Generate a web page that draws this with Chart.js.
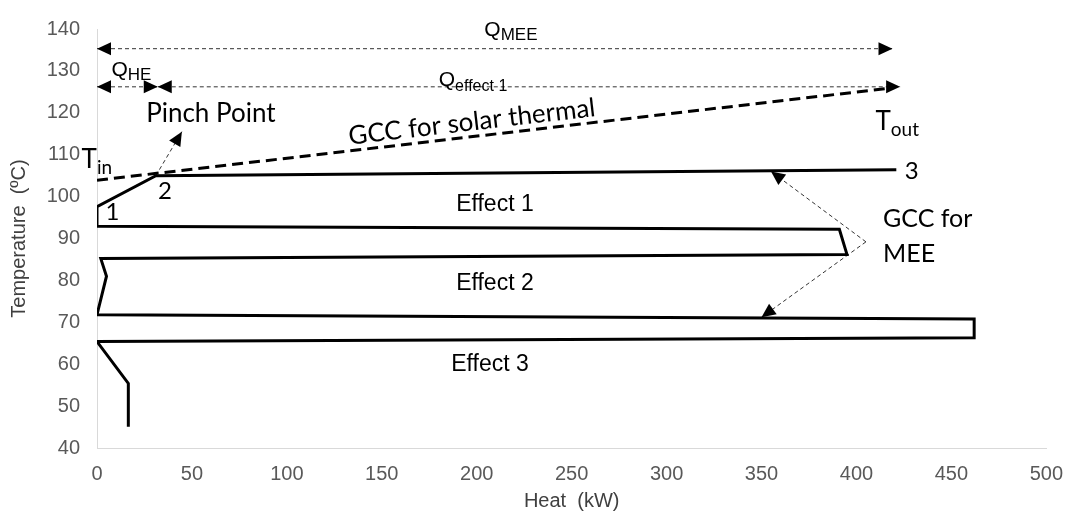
<!DOCTYPE html>
<html><head><meta charset="utf-8">
<script src="https://cdn.jsdelivr.net/npm/chart.js@4.4.1/dist/chart.umd.min.js"></script>
<style>html,body{margin:0;padding:0;background:#fff}#wrap{width:1077px;height:515px;position:relative}</style>
</head><body><div id="wrap"><canvas id="c"></canvas></div>
<script>
// ---- tick labels ----
const xTickValues = [0, 50, 100, 150, 200, 250, 300, 350, 400, 450, 500];
const yTickValues = [40, 50, 60, 70, 80, 90, 100, 110, 120, 130, 140];

// ---- GCC for MEE (solid) ----
const meeHeat = [421, 31, 0, 0, 391, 395, 2, 5, 0, 462, 462, 0, 16.5, 16.5];
const meeTemp = [106.4, 105.0, 97.6, 92.9, 92.2, 86.2, 85.2, 81.0, 71.8, 70.8, 66.3, 65.4, 55.4, 45.1];

// ---- GCC for solar thermal (dashed) ----
const solarHeat = [0, 416];
const solarTemp = [103.9, 125.8];

// ---- dimension / pointer arrows ----
const qMeeHeat = [0, 419], qMeeTemp = [135.3, 135.3];
const qHeHeat = [0, 32], qHeTemp = [126.2, 126.2];
const qEff1Heat = [32, 423], qEff1Temp = [126.2, 126.2];
const pinchHeat = [31, 44.7], pinchTemp = [105.0, 115.5];
const meeUpHeat = [405, 355], meeUpTemp = [89.2, 106.0];
const meeDownHeat = [405, 350], meeDownTemp = [89.2, 71.2];

const pts = (xs, ys) => xs.map((x, i) => ({x, y: ys[i]}));

const CAL = 'Lato, "Noto Sans", sans-serif';
const ARI = '"Liberation Sans", Arial, sans-serif';

// text annotations (data coordinates)
const labels = [
  {t: 'Q', s: 'MEE', x: 204, y: 138.4, f: '21px ' + ARI, sf: '17px ' + ARI, sdy: 4},
  {t: 'Q', s: 'HE', x: 7.6, y: 128.8, f: '21px ' + ARI, sf: '17px ' + ARI, sdy: 4},
  {t: 'Q', s: 'effect 1', x: 180, y: 126.5, f: '21px ' + ARI, sf: '16px ' + ARI, sdy: 5},
  {t: 'Pinch Point', x: 25.9, y: 117.8, f: '26px ' + CAL},
  {t: 'GCC for solar thermal', x: 133, y: 112.4, f: '26px ' + CAL, rot: 'solar'},
  {t: 'T', s: 'in', x: -8.1, y: 106.9, f: '26px ' + CAL, sf: '19px ' + CAL, sdy: 6},
  {t: 'T', s: 'out', x: 410, y: 115.8, f: '26px ' + CAL, sf: '19px ' + CAL, sdy: 6},
  {t: '1', x: 8.1, y: 94.4, f: '24px ' + CAL, a: 'center'},
  {t: '2', x: 35.8, y: 99.4, f: '24px ' + CAL, a: 'center'},
  {t: '3', x: 425.5, y: 104.2, f: '24px ' + CAL},
  {t: 'Effect 1', x: 209.6, y: 98.0, f: '23px ' + ARI, a: 'center', b: 'middle'},
  {t: 'Effect 2', x: 209.6, y: 79.2, f: '23px ' + ARI, a: 'center', b: 'middle'},
  {t: 'Effect 3', x: 207, y: 60.0, f: '23px ' + ARI, a: 'center', b: 'middle'},
  {t: 'GCC for', x: 414, y: 94.7, f: '25px ' + CAL, b: 'middle'},
  {t: 'MEE', x: 414, y: 86.4, f: '25px ' + CAL, b: 'middle'}
];

const thin = {borderColor: '#333', borderWidth: 1, borderDash: [4, 3]};
const datasets = [
  {data: pts(meeHeat, meeTemp), borderColor: '#000', borderWidth: 3},
  {data: pts(solarHeat, solarTemp), borderColor: '#000', borderWidth: 3, borderDash: [11, 6], id: 'solar'},
  Object.assign({data: pts(qMeeHeat, qMeeTemp), arrowStart: true, arrowEnd: true}, thin),
  Object.assign({data: pts(qHeHeat, qHeTemp), arrowStart: true, arrowEnd: true}, thin),
  Object.assign({data: pts(qEff1Heat, qEff1Temp), arrowStart: true, arrowEnd: true}, thin),
  Object.assign({data: pts(pinchHeat, pinchTemp), arrowEnd: true}, thin),
  Object.assign({data: pts(meeUpHeat, meeUpTemp), arrowEnd: true}, thin),
  Object.assign({data: pts(meeDownHeat, meeDownTemp), arrowEnd: true}, thin)
].map(d => Object.assign({showLine: true, pointRadius: 0, pointHoverRadius: 0, tension: 0, fill: false}, d));

function head(ctx, x1, y1, x2, y2) {
  const a = Math.atan2(y2 - y1, x2 - x1), L = 14, W = 6.5;
  ctx.beginPath();
  ctx.moveTo(x2, y2);
  ctx.lineTo(x2 - L * Math.cos(a) + W * Math.sin(a), y2 - L * Math.sin(a) - W * Math.cos(a));
  ctx.lineTo(x2 - L * Math.cos(a) - W * Math.sin(a), y2 - L * Math.sin(a) + W * Math.cos(a));
  ctx.closePath();
  ctx.fill();
}

const arrowPlugin = {
  id: 'arrows',
  afterDatasetsDraw(chart) {
    const {ctx, scales: {x, y}} = chart;
    ctx.save();
    ctx.fillStyle = '#000';
    chart.data.datasets.forEach(ds => {
      const p = ds.data.map(d => [x.getPixelForValue(d.x), y.getPixelForValue(d.y)]);
      const n = p.length;
      if (ds.arrowEnd) head(ctx, p[n - 2][0], p[n - 2][1], p[n - 1][0], p[n - 1][1]);
      if (ds.arrowStart) head(ctx, p[1][0], p[1][1], p[0][0], p[0][1]);
    });
    ctx.restore();
  }
};

const textPlugin = {
  id: 'texts',
  afterDraw(chart) {
    const {ctx, scales: {x, y}} = chart;
    ctx.save();
    ctx.fillStyle = '#000';
    const solar = chart.data.datasets.find(d => d.id === 'solar').data;
    const sAng = Math.atan2(y.getPixelForValue(solar[1].y) - y.getPixelForValue(solar[0].y),
                            x.getPixelForValue(solar[1].x) - x.getPixelForValue(solar[0].x));
    labels.forEach(l => {
      const px = x.getPixelForValue(l.x), py = y.getPixelForValue(l.y);
      ctx.save();
      ctx.translate(px, py);
      if (l.rot === 'solar') ctx.rotate(sAng);
      ctx.font = l.f;
      ctx.textAlign = l.a || 'left';
      ctx.textBaseline = l.b || 'alphabetic';
      ctx.fillText(l.t, 0, 0);
      if (l.s) {
        const w = ctx.measureText(l.t).width;
        ctx.font = l.sf;
        ctx.textAlign = 'left';
        ctx.fillText(l.s, w, l.sdy);
      }
      ctx.restore();
    });
    ctx.restore();
  }
};

new Chart(document.getElementById('c'), {
  type: 'scatter',
  data: {datasets},
  plugins: [arrowPlugin, textPlugin],
  options: {
    responsive: true, maintainAspectRatio: false, animation: false,
    layout: {padding: {top: 20, right: 24, left: 0, bottom: 0}},
    plugins: {legend: {display: false}, tooltip: {enabled: false}},
    scales: {
      x: {
        type: 'linear', min: 0, max: 500,
        afterBuildTicks: s => { s.ticks = xTickValues.map(v => ({value: v})); },
        afterFit: s => { s.height = 67; },
        grid: {display: false, drawTicks: false},
        border: {display: true, color: '#d9d9d9', width: 1},
        ticks: {color: '#595959', font: {family: ARI, size: 20}, padding: 14, maxRotation: 0},
        title: {display: true, text: 'Heat  (kW)', color: '#404040', font: {family: ARI, size: 20}, padding: {top: 0, bottom: 2}}
      },
      y: {
        type: 'linear', min: 40, max: 140,
        afterBuildTicks: s => { s.ticks = yTickValues.map(v => ({value: v})); },
        afterFit: s => { s.width = 97; },
        grid: {display: false, drawTicks: false},
        border: {display: true, color: '#d9d9d9', width: 1},
        ticks: {color: '#595959', font: {family: ARI, size: 20}, padding: 17},
        title: {display: true, text: 'Temperature  (ºC)', color: '#404040', font: {family: ARI, size: 20}, padding: {top: 7, bottom: 0}}
      }
    }
  }
});
</script></body></html>
